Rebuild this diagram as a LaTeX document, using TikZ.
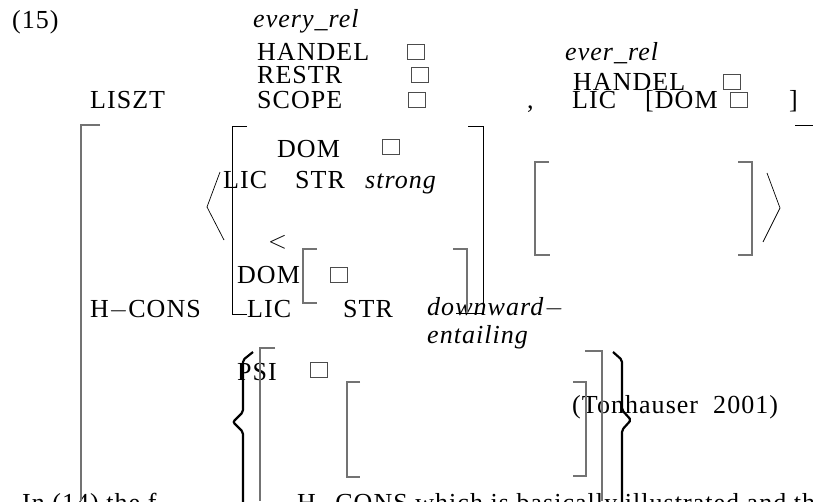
\documentclass[tikz,border=0pt]{standalone}
\usepackage{tikz}
\usepackage{fontspec}
\setmainfont{Liberation Serif}[LetterSpace=4]

\begin{document}
\begin{tikzpicture}[x=1pt, y=-1pt,
% node style
avm/.style={font=\fontsize{26}{30}\selectfont, anchor=base west, inner sep=0pt},
tag/.style={draw=black!70, thick, minimum width=17pt, minimum height=15pt, inner sep=0pt, anchor=south west},
brk/.style={draw=black!55, line width=1.1pt},
thin/.style={draw=black, line width=0.7pt},
brace/.style={draw=black, line width=2.2pt, rounded corners=2pt}
]
\useasboundingbox (0,0) rectangle (813,501);
\clip (0,0) rectangle (813,501);

% nodes
\node[avm] (num) at (12,28) {(15)};
\node[avm] (every_rel) at (253,27) {\textit{every\_rel}};
\node[avm] (handel_l) at (257,60) {HANDEL};
\node[avm] (restr) at (257,83) {RESTR};
\node[avm] (scope) at (257,108) {SCOPE};
\node[avm] (liszt) at (90,108) {LISZT};
\node[avm] (dom_u) at (277,157) {DOM};
\node[avm] (lic_u) at (223,188) {LIC};
\node[avm] (str_u) at (295,188) {STR};
\node[avm] (strong) at (365,188) {\textit{strong}};
\node[avm] (lt) at (268,248) {$<$};
\node[avm] (dom_l) at (237,283) {DOM};
\node[avm] (hcons) at (90,317) {H$-$CONS};
\node[avm] (lic_l) at (247,317) {LIC};
\node[avm] (str_l) at (343,317) {STR};
\node[avm] (down) at (427,315) {\textit{downward}$-$};
\node[avm] (entail) at (427,343) {\textit{entailing}};
\node[avm] (ever_rel) at (565,60) {\textit{ever\_rel}};
\node[avm] (handel_r) at (573,90) {HANDEL};
\node[avm] (comma) at (527,108) {,};
\node[avm] (lic_r) at (572,108) {LIC};
\node[avm] (dom_r) at (645,108) {[DOM};
\node[avm] (rb) at (789,108) {]};
\node[avm] (psi) at (237,380) {PSI};
\node[avm] (cite) at (572,413) {(Tonhauser\ \ 2001)};
\node[avm] (txt_a) at (22,511) {In (14) the f};
\node[avm] (txt_b) at (297,511) {H$-$CONS which is basically illustrated and the};

% tags
\node[tag] (tag_handel) at (407,60) {};
\node[tag] (tag_restr) at (411,83) {};
\node[tag] (tag_scope) at (408,108) {};
\node[tag] (tag_dom_u) at (382,155) {};
\node[tag] (tag_handel_r) at (723,90) {};
\node[tag] (tag_dom_r) at (730,108) {};
\node[tag] (tag_dom_l) at (330,283) {};
\node[tag] (tag_psi) at (310,378) {};

% brackets
\draw[brk] (100,125) -- (81,125) -- (81,501);
\draw[thin] (247,126) -- (232,126) -- (232,314) -- (247,314);
\draw[thin] (468,126) -- (483,126) -- (483,313) -- (456,313);
\draw[brk] (317,249) -- (303,249) -- (303,303) -- (317,303);
\draw[brk] (453,249) -- (467,249) -- (467,313);
\draw[brk] (549,162) -- (535,162) -- (535,255) -- (550,255);
\draw[brk] (738,162) -- (752,162) -- (752,255) -- (738,255);
\draw[thin] (795,125) -- (813,125);
\draw[brk] (275,348) -- (260,348) -- (260,501);
\draw[brk] (585,351) -- (602,351) -- (602,501);
\draw[brk] (360,382) -- (347,382) -- (347,477) -- (360,477);
\draw[brk] (573,382) -- (586,382) -- (586,476) -- (573,476);

% angles
\draw[thin] (220,172) -- (207,207) -- (224,240);
\draw[thin] (767,173) -- (780,208) -- (763,242);

% braces
\draw[brace] (253,352) -- (243,360) -- (243,412) -- (233,422) -- (243,432) -- (243,510);
\draw[brace] (613,352) -- (622,360) -- (622,410) -- (631,420) -- (622,430) -- (622,510);

\end{tikzpicture}
\end{document}
